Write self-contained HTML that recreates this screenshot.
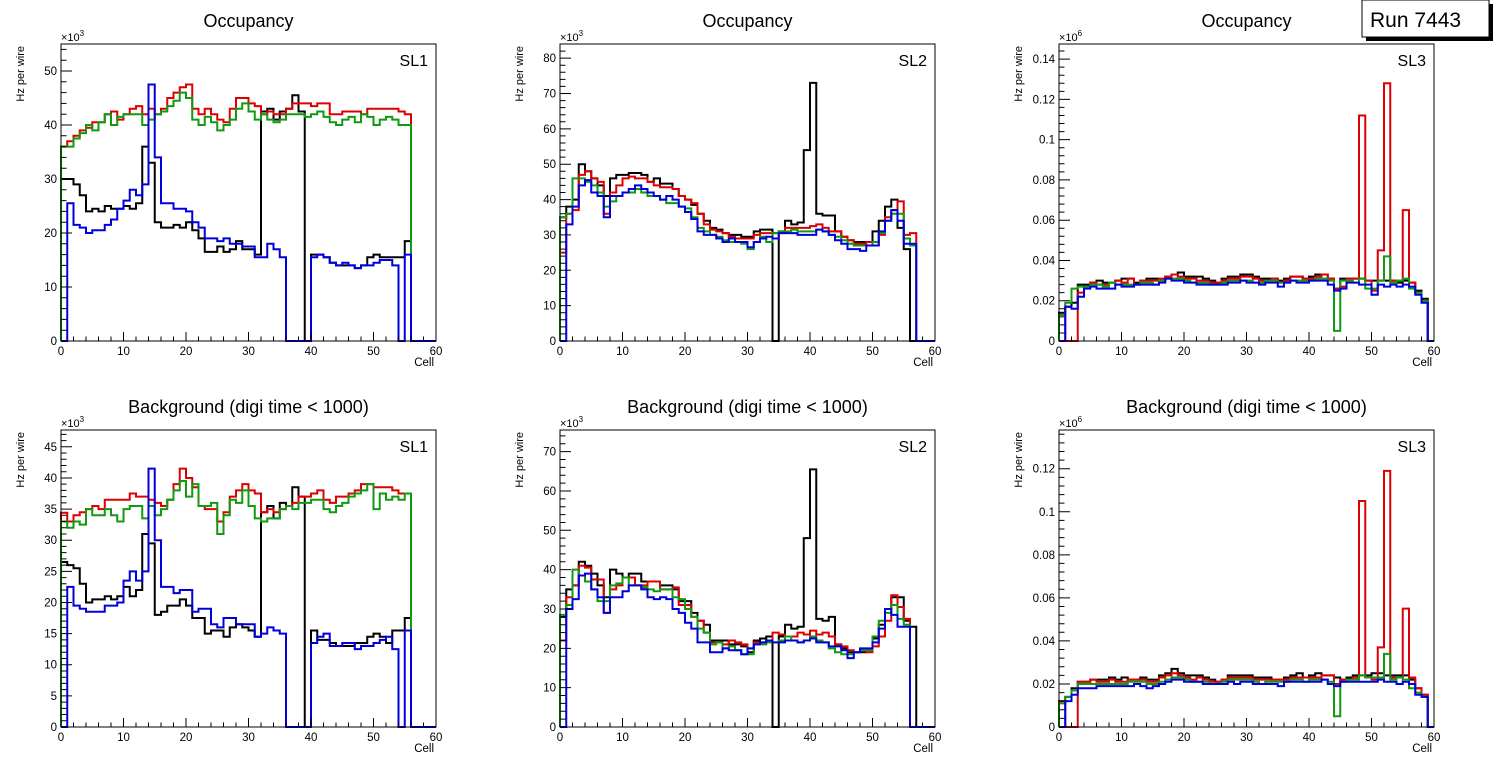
<!DOCTYPE html>
<html><head><meta charset="utf-8"><style>
html,body{margin:0;padding:0;background:#fff;}
svg{display:block;font-family:"Liberation Sans",Arial,sans-serif;}
</style></head><body>
<svg id="chart" width="1496" height="772" viewBox="0 0 1496 772" xmlns="http://www.w3.org/2000/svg">
<g>
<rect x="1366" y="4" width="127" height="37" fill="#000"/>
<rect x="1362" y="0" width="127" height="37" fill="#fff" stroke="#000" stroke-width="1"/>
<text x="1370" y="27" font-size="21" fill="#000">Run 7443</text>
</g>
</svg>
<script>
// ---- data (60 bins per series, cells 0..59) ----
const cells = [];
for (let i = 0; i < 60; i++) cells.push(i);
const colors = ["#000000", "#dd0000", "#119911", "#0000dd"];

const sl1OccBlack = [30,30,29,27,24,24.5,24,25,24.5,24.5,25,24.5,25.5,36,33,22,21,21,21.5,21,22,20.5,19,16.5,16.5,17.5,16.5,17,18.5,17,17,16,42.5,43,41,42.5,43,45.5,42.5,0,16,16,15.5,14.5,14,14,14,13.5,14,15.5,16,15.5,15.5,15.5,15.5,18.5,0,0,0,0];
const sl1OccRed = [36,37,38,39,39.5,40.5,40.5,42,42.5,41,42,43,43.5,42,43,42,43,45,46,47,47.5,43,42,43,42,41,40.5,43,45,45,44,43.5,42,42.5,42,42,43,44,44,44,43.5,44,44,42,42,42.5,42.5,42.5,42,43,43,43,43,43,42.5,42,0,0,0,0];
const sl1OccGreen = [36,36,37.5,38.5,40,39,40.5,42,40,41.5,42,42,42,40,41,42,42.5,43.5,44.5,46,45,41,40,41.5,40.5,39,40,41,43,44,42.5,41,42,41,40.5,41,42,42,42,41.5,42,42.5,41.5,40.5,40,41,41.5,40.5,42,41.5,40,41,41.5,41,40,40,0,0,0,0];
const sl1OccBlue = [0,25.5,21.5,21,20,20.5,20.5,21.5,22.5,24.5,26,28,27,29,47.5,34,25.5,25.5,24.5,24.5,24,22,21,19,19,18.5,19,18,18,17.5,17.5,15.5,15.5,18,17,15.5,0,0,0,0,15.5,16,15.5,14.5,14,14.5,14,13.5,14,14,14.5,15,15,14,0,16,0,0,0,0];

const sl2OccBlack = [35,38,40,50,48,46,44,41,46,47,47,47.5,47.5,47,45,46,44.5,44.5,43,41,40,38.5,36,34,32,31.5,30.5,30,30,29.5,29.5,31,31.5,31.5,0,31,34,33,33.5,54,73,36,35.5,35.5,31,29.5,28.5,28,28,28,31,34,38,40,32,26,0,0,0,0];
const sl2OccRed = [25,36,37,47,48,46,45,36,42,44,46,46.5,46,46,45,44,43.5,43.5,43,41,40,39,36,33,31.5,31,30.5,29.5,29,29,29,30,30.5,30.5,30.5,30.5,32,32,32,32,32.5,33,32,31,31,29.5,28.5,27.5,27.5,28,27,30,35,37,39.5,30,30.5,0,0,0];
const sl2OccGreen = [35,36,46,46,45,44,42,38,39.5,41,42,42,43,42,41,41,40,39,39,38,37.5,35,32,31,30,29.5,28.5,28,28,27.5,26,28,29.5,28,30.5,31,31,31.5,31,31,31,31.5,31,30,29.5,28.5,27.5,27,27,27,28,30.5,34,36,36,29,27,0,0,0];
const sl2OccBlue = [0,33,38,44,45.5,42,41,35,41,41,42,43,44,43,42,41,40,41,40,38,36.5,34.5,31,30,30,29,28,29,28,28,26.5,28,29,29.5,29,30.5,30.5,30.5,30,30,30,31.5,31,30,28.5,27.5,26,26,25.5,27,27,31,34,37,34,27.5,27.5,0,0,0];

const sl3OccBlack = [0.014,0.017,0.019,0.028,0.028,0.029,0.030,0.029,0.029,0.030,0.031,0.031,0.029,0.030,0.031,0.031,0.030,0.032,0.033,0.034,0.032,0.032,0.032,0.031,0.030,0.029,0.031,0.032,0.032,0.033,0.033,0.032,0.031,0.031,0.031,0.030,0.031,0.032,0.032,0.031,0.032,0.033,0.033,0.031,0.026,0.031,0.031,0.031,0.031,0.030,0.030,0.030,0.030,0.030,0.029,0.030,0.029,0.025,0.021,0];
const sl3OccRed = [0.013,0,0,0.024,0.027,0.029,0.028,0.028,0.029,0.030,0.029,0.031,0.028,0.030,0.030,0.030,0.031,0.032,0.033,0.032,0.031,0.031,0.030,0.030,0.029,0.029,0.030,0.031,0.031,0.032,0.032,0.031,0.030,0.030,0.031,0.029,0.030,0.032,0.032,0.031,0.031,0.032,0.033,0.031,0.026,0.027,0.031,0.031,0.112,0.030,0.025,0.045,0.128,0.030,0.030,0.065,0.029,0.024,0.020,0];
const sl3OccGreen = [0.013,0.019,0.026,0.027,0.027,0.028,0.028,0.027,0.029,0.028,0.028,0.028,0.028,0.029,0.029,0.028,0.030,0.031,0.031,0.031,0.030,0.029,0.029,0.029,0.028,0.028,0.029,0.030,0.030,0.030,0.030,0.029,0.029,0.030,0.030,0.029,0.029,0.030,0.030,0.030,0.030,0.031,0.031,0.030,0.005,0.030,0.030,0.029,0.031,0.026,0.026,0.030,0.042,0.029,0.030,0.031,0.026,0.024,0.020,0];
const sl3OccBlue = [0,0.017,0.016,0.022,0.026,0.027,0.026,0.026,0.026,0.028,0.027,0.027,0.028,0.028,0.028,0.028,0.029,0.031,0.030,0.030,0.029,0.029,0.028,0.028,0.028,0.028,0.028,0.029,0.029,0.030,0.029,0.029,0.028,0.029,0.029,0.027,0.029,0.030,0.029,0.029,0.030,0.030,0.030,0.028,0.025,0.026,0.029,0.029,0.028,0.028,0.023,0.028,0.027,0.028,0.027,0.028,0.027,0.023,0.019,0];

const sl1BkgBlack = [26.5,26,25.5,23,20,20.5,20.5,21,20.5,21,22.5,21,22,31,29.5,18,18.5,19.5,19.5,20.5,19.5,17.5,17.5,15,15.5,15.5,14.5,16,16.5,16,15.5,14.5,34.5,35.5,33.5,36,35.5,38.5,37,0,15.5,14,14,13.5,13,13,13,13.5,13.5,14.5,15,14.5,13.5,15.5,15.5,17.5,0,0,0,0];
const sl1BkgRed = [34.4,33,34,34.5,35,35.5,35,36.5,36.5,36.5,36.5,37.5,37,37,36.5,36,35.5,36.5,39,41.5,40,38.5,35.5,35,35,33,34.5,37,38,39,38,37.5,34.5,35,34.5,35,35.5,36,37,37,37.5,38,36.5,36,37,37,37.5,38,39,39,38.5,38.5,38.5,38,37.5,37.5,0,0,0,0];
const sl1BkgGreen = [33,32,33,32.5,35,34,34,35,34,33,35,35.5,35.5,33.5,35.5,34,35,36.5,38,39.5,37,39,35.5,35.5,36,31,34,36.5,36,38,35.5,33.5,33,33.5,33.5,35,35.5,35,36,36,36.5,36.5,35,34.5,35.5,36,37,37.5,38,39,35,37.5,36.5,37,36.5,37.5,0,0,0,0];
const sl1BkgBlue = [0,22.5,19.5,19,18.5,18.5,18.5,19.5,19.5,20,23.5,25,23.5,25,41.5,30,22.5,22.5,21.5,22,22,18.5,19,19,16.5,16,17.5,17.5,16.5,16.5,16.5,14.5,15,16,15.5,15,0,0,0,0,13.5,14.5,15,13,13,13.5,13.5,12.5,13,13,13.5,14,14.5,12.5,0,15.5,0,0,0,0];

const sl2BkgBlack = [28,35,36,42,41,39,36,33,40,39,38,39,39,37,37,37,36,36,35,32,32,29,27,26,22,22,22,21,21,20.5,19,22,22.5,23,0,23,26,25,25.5,48,65.5,27.5,27,28,21,20,19,19,19,19.5,22.5,26,30,33,33,27,25.5,0,0,0];
const sl2BkgRed = [22,33,36,41,40.5,37.5,37.5,29,35,36,38,38,36,36,37,37,35,35,35.5,31,31,28,27,24,21.5,21.5,21,22,21.5,21,20,21.5,21.5,22,24,23.5,23,23,24,23.5,24.5,23.5,24,23,21,20.5,19.5,19,19.5,19,20.5,23,27,33.5,30.5,27.5,0,0,0,0];
const sl2BkgGreen = [28.5,31,40,38.5,37,35,32,32,36,36.5,38,36,36,35.5,35,34.5,35,35,33,32.5,30,28,25,24,21,21.5,20,20.5,19.5,18.5,18.5,21,21,21.5,21.5,22,23,22,21.5,22,23,22,21.5,20,19,18.5,18.5,19,19.5,19.5,23,27,29,31,27.5,26,0,0,0,0];
const sl2BkgBlue = [0,30,32.5,38.5,39,35,33,29,33,33,34.5,36,36,35,33,32.5,33,32.5,30,29,26.5,25,21.5,21.5,19,19,20,19.5,19.5,18.5,20,21,21.5,22,21.5,21.5,22,22,21.5,22,22.5,21.5,21.5,20.5,20.5,19.5,17.5,19,20,20,21.5,25,30,28.5,25.5,25.5,0,0,0,0];

const sl3BkgBlack = [0.012,0.014,0.018,0.021,0.021,0.022,0.022,0.022,0.023,0.022,0.023,0.022,0.022,0.023,0.022,0.022,0.024,0.025,0.027,0.025,0.024,0.024,0.024,0.023,0.022,0.021,0.022,0.024,0.024,0.024,0.024,0.023,0.023,0.023,0.022,0.022,0.023,0.024,0.025,0.023,0.024,0.025,0.024,0.024,0.023,0.022,0.023,0.024,0.024,0.024,0.025,0.025,0.024,0.024,0.024,0.024,0.022,0.018,0.015,0];
const sl3BkgRed = [0.012,0,0,0.021,0.021,0.022,0.021,0.021,0.022,0.021,0.021,0.022,0.022,0.022,0.021,0.021,0.023,0.024,0.025,0.024,0.023,0.022,0.023,0.022,0.021,0.021,0.022,0.023,0.023,0.023,0.023,0.022,0.022,0.022,0.022,0.022,0.022,0.023,0.023,0.023,0.023,0.023,0.024,0.024,0.020,0.022,0.022,0.023,0.105,0.023,0.022,0.037,0.119,0.023,0.023,0.055,0.023,0.018,0.015,0];
const sl3BkgGreen = [0.011,0.014,0.017,0.020,0.020,0.020,0.020,0.020,0.020,0.020,0.020,0.021,0.021,0.021,0.020,0.020,0.021,0.022,0.023,0.023,0.022,0.021,0.021,0.021,0.020,0.020,0.021,0.022,0.022,0.022,0.022,0.021,0.020,0.021,0.021,0.021,0.021,0.022,0.022,0.021,0.022,0.022,0.022,0.021,0.005,0.021,0.022,0.022,0.024,0.023,0.023,0.023,0.034,0.022,0.023,0.022,0.018,0.016,0.014,0];
const sl3BkgBlue = [0,0.012,0.015,0.018,0.018,0.018,0.019,0.019,0.019,0.019,0.019,0.019,0.020,0.019,0.018,0.019,0.020,0.021,0.022,0.022,0.021,0.021,0.021,0.020,0.020,0.020,0.020,0.021,0.020,0.021,0.021,0.020,0.020,0.020,0.020,0.019,0.021,0.021,0.021,0.021,0.021,0.021,0.022,0.020,0.019,0.021,0.021,0.021,0.021,0.021,0.021,0.022,0.021,0.021,0.020,0.021,0.020,0.015,0.014,0];

const xTicks = [0,10,20,30,40,50,60];
const yTicksSl1Occ = [0,10,20,30,40,50];
const yTicksSl2Occ = [0,10,20,30,40,50,60,70,80];
const yTicksSl3Occ = [0,0.02,0.04,0.06,0.08,0.1,0.12,0.14];
const yTicksSl1Bkg = [0,5,10,15,20,25,30,35,40,45];
const yTicksSl2Bkg = [0,10,20,30,40,50,60,70];
const yTicksSl3Bkg = [0,0.02,0.04,0.06,0.08,0.1,0.12];

const panels = [
  {name:"sl1-occupancy", title:"Occupancy", sl:"SL1", fx:61, fy:44, ymax:55, ticks:yTicksSl1Occ, minor:2, exp:"3", series:[sl1OccBlack,sl1OccRed,sl1OccGreen,sl1OccBlue]},
  {name:"sl2-occupancy", title:"Occupancy", sl:"SL2", fx:560, fy:44, ymax:84, ticks:yTicksSl2Occ, minor:2, exp:"3", series:[sl2OccBlack,sl2OccRed,sl2OccGreen,sl2OccBlue]},
  {name:"sl3-occupancy", title:"Occupancy", sl:"SL3", fx:1059, fy:44, ymax:0.1475, ticks:yTicksSl3Occ, minor:0.004, exp:"6", series:[sl3OccBlack,sl3OccRed,sl3OccGreen,sl3OccBlue]},
  {name:"sl1-background", title:"Background (digi time < 1000)", sl:"SL1", fx:61, fy:430, ymax:47.7, ticks:yTicksSl1Bkg, minor:1, exp:"3", series:[sl1BkgBlack,sl1BkgRed,sl1BkgGreen,sl1BkgBlue]},
  {name:"sl2-background", title:"Background (digi time < 1000)", sl:"SL2", fx:560, fy:430, ymax:75.5, ticks:yTicksSl2Bkg, minor:2, exp:"3", series:[sl2BkgBlack,sl2BkgRed,sl2BkgGreen,sl2BkgBlue]},
  {name:"sl3-background", title:"Background (digi time < 1000)", sl:"SL3", fx:1059, fy:430, ymax:0.138, ticks:yTicksSl3Bkg, minor:0.004, exp:"6", series:[sl3BkgBlack,sl3BkgRed,sl3BkgGreen,sl3BkgBlue]}
];
const seriesNames = ["series-black","series-red","series-green","series-blue"];

const NS = "http://www.w3.org/2000/svg";
const svg = document.getElementById("chart");
const FW = 375, FH = 297;
function mk(tag, attrs, parent){
  const e = document.createElementNS(NS, tag);
  for (const k in attrs) e.setAttribute(k, attrs[k]);
  parent.appendChild(e);
  return e;
}
function fmt(v){ return String(Math.round(v*1000)/1000); }

panels.forEach(p => {
  const g = mk("g", {}, svg);
  
  
  const xs = v => p.fx + v / 60 * FW;
  const ys = v => p.fy + FH - v / p.ymax * FH;
  const base = p.fy + FH;

  const t = mk("text", {x: p.fx + FW/2, y: p.fy - 17, "font-size": 18, "text-anchor": "middle", fill: "#000"}, g);
  t.textContent = p.title;
  
  

  // histograms
  const hg = mk("g", {}, g);
  
  
  p.series.forEach((vals, si) => {
    let d = "M" + xs(cells[0]) + "," + base;
    cells.forEach((c, i) => {
      d += " V" + ys(vals[i]).toFixed(2) + " H" + xs(c + 1).toFixed(2);
    });
    d += " V" + base;
    const path = mk("path", {d: d, fill: "none", stroke: colors[si], "stroke-width": 2, "stroke-linejoin": "miter"}, hg);
    
    
  });

  // frame
  const fr = mk("rect", {x: p.fx, y: p.fy, width: FW, height: FH, fill: "none", stroke: "#000", "stroke-width": 1}, g);
  
  

  // x axis ticks
  const xa = mk("g", {}, g);
  
  
  let td = "";
  for (let v = 0; v <= 60; v += 2) {
    const len = (v % 10 === 0) ? 9 : 4.5;
    td += "M" + xs(v).toFixed(2) + "," + base + " V" + (base - len);
  }
  mk("path", {d: td, stroke: "#000", "stroke-width": 1, fill: "none"}, xa);
  xTicks.forEach(v => {
    const tl = mk("text", {x: xs(v), y: base + 14, "font-size": 11.5, "text-anchor": "middle", fill: "#000"}, xa);
    tl.textContent = String(v);
    
    
  });
  const xt = mk("text", {x: p.fx + FW - 2, y: base + 25, "font-size": 11.5, "text-anchor": "end", fill: "#000"}, xa);
  xt.textContent = "Cell";
  
  

  // y axis
  const ya = mk("g", {}, g);
  
  
  const major = p.ticks[1] - p.ticks[0];
  let yd = "";
  for (let k = 0; k * p.minor <= p.ymax + 1e-9; k++) {
    const v = k * p.minor;
    const isMajor = Math.abs(v / major - Math.round(v / major)) < 1e-6;
    yd += "M" + p.fx + "," + ys(v).toFixed(2) + " H" + (p.fx + (isMajor ? 11 : 5.5));
  }
  mk("path", {d: yd, stroke: "#000", "stroke-width": 1, fill: "none"}, ya);
  p.ticks.forEach(v => {
    const tl = mk("text", {x: p.fx - 4, y: ys(v) + 4, "font-size": 11.5, "text-anchor": "end", fill: "#000"}, ya);
    tl.textContent = fmt(v);
    
    
  });
  const yt = mk("text", {x: 0, y: 0, "font-size": 11, "text-anchor": "end", fill: "#000", transform: "translate(" + (p.fx - 37) + "," + (p.fy + 2) + ") rotate(-90)"}, ya);
  yt.textContent = "Hz per wire";
  
  
  const ex = mk("text", {x: p.fx, y: p.fy - 3, "font-size": 11, fill: "#000"}, ya);
  ex.textContent = "\u00d710";
  const sup = mk("tspan", {dy: -5, "font-size": 8}, ex);
  sup.textContent = p.exp;
  
  

  const sl = mk("text", {x: p.fx + FW - 8, y: p.fy + 22, "font-size": 16, "text-anchor": "end", fill: "#000"}, g);
  sl.textContent = p.sl;
  
  
});
</script>
</body></html>
